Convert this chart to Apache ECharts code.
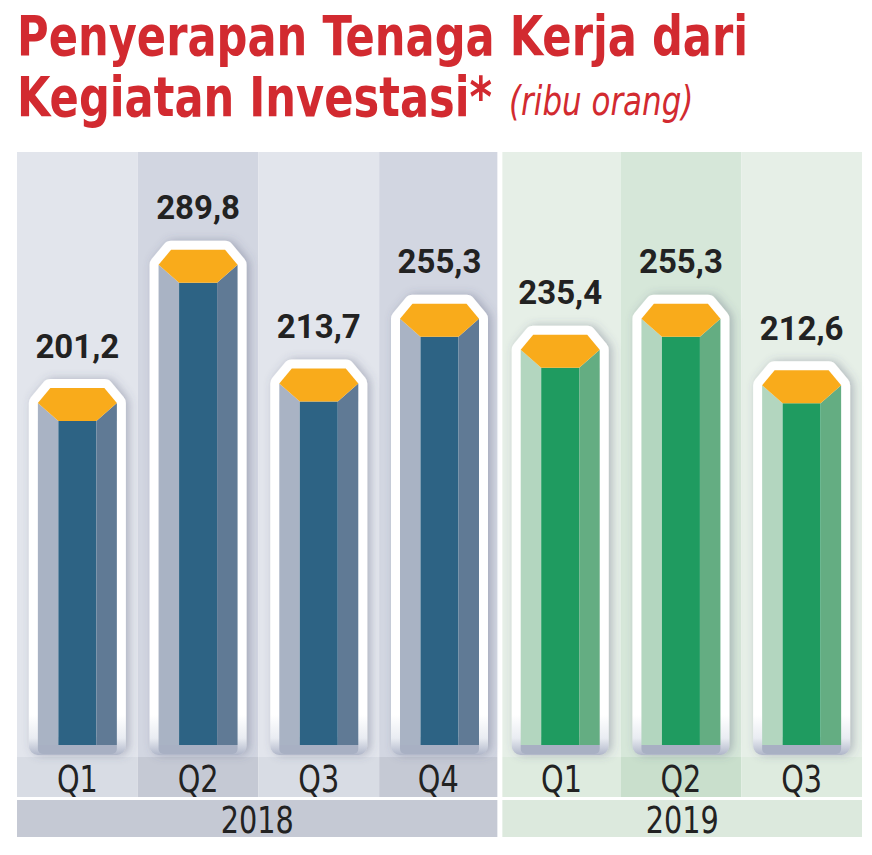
<!DOCTYPE html>
<html><head><meta charset="utf-8">
<script src="https://cdn.jsdelivr.net/npm/echarts@6/dist/echarts.min.js"></script>
<style>html,body{margin:0;padding:0;background:#fff}#c{width:872px;height:855px}</style>
</head><body><div id="c"></div>
<script>
// ---- data ----
const categories = ['Q1', 'Q2', 'Q3', 'Q4', 'Q1', 'Q2', 'Q3'];
const years = ['2018', '2018', '2018', '2018', '2019', '2019', '2019'];
const values = [201.2, 289.8, 213.7, 255.3, 235.4, 255.3, 212.6];
const valueLabels = ['201,2', '289,8', '213,7', '255,3', '235,4', '255,3', '212,6'];
const titleLine1 = 'Penyerapan Tenaga Kerja dari';
const titleLine2 = 'Kegiatan Investasi*';
const titleUnit = '(ribu orang)';

// ---- styles ----
const NARROW = '"Liberation Sans Narrow", "DejaVu Sans Condensed", sans-serif';
const RED = '#d22a30';
const palette = {
  '2018': {
    stripe: ['#e2e5ec', '#d2d6e1'], qrow: ['#d8dce4', '#c5c9d4'], yrow: '#c5c9d4',
    left: '#a9b3c4', mid: '#2d6384', right: '#607a95'
  },
  '2019': {
    stripe: ['#e6efe7', '#d6e7d9'], qrow: ['#deebdf', '#c9dfcc'], yrow: '#dce9dd',
    left: '#b3d6bf', mid: '#1f9b60', right: '#64ad82'
  }
};
const HEX = '#f9ab1b';

function yearIndexWithin(idx) {
  let k = 0;
  for (let i = idx - 1; i >= 0 && years[i] === years[idx]; i--) k++;
  return k;
}

function bandEdges(api, idx) {
  const c = api.coord([idx, 0])[0];
  const w = api.size([1, 0])[0];
  let l = c - w / 2, r = c + w / 2;
  if (idx > 0 && years[idx - 1] !== years[idx]) l += 2.5;
  if (idx < years.length - 1 && years[idx + 1] !== years[idx]) r -= 2.5;
  return [l, r];
}

function axisText(text, x, y) {
  return { type: 'text', x: x, y: y, scaleX: 0.84,
    style: { text: text, x: 0, y: 0, align: 'center', verticalAlign: 'middle',
      fontFamily: NARROW, fontSize: 38, fill: '#222' } };
}

function renderBackground(params, api) {
  const idx = api.value(0);
  const cs = params.coordSys;
  const yr = years[idx];
  const p = palette[yr];
  const k = yearIndexWithin(idx) % 2;
  const [l, r] = bandEdges(api, idx);
  const bottom = cs.y + cs.height;
  const children = [
    { type: 'rect', shape: { x: l, y: cs.y, width: r - l, height: cs.height }, style: { fill: p.stripe[k] } },
    { type: 'rect', shape: { x: l, y: bottom, width: r - l, height: 40 }, style: { fill: p.qrow[k] } },
    axisText(categories[idx], (l + r) / 2, bottom + 21)
  ];
  if (idx === 0 || years[idx - 1] !== yr) {
    let last = idx;
    while (last + 1 < years.length && years[last + 1] === yr) last++;
    const r2 = bandEdges(api, last)[1];
    children.push(
      { type: 'rect', shape: { x: l, y: bottom + 43, width: r2 - l, height: 37 }, style: { fill: p.yrow } },
      axisText(yr, (l + r2) / 2, bottom + 62)
    );
  }
  return { type: 'group', children };
}

function renderBar(params, api) {
  const idx = api.value(0);
  const pt = api.coord([idx, api.value(1)]);
  const cx = pt[0], y0 = pt[1];
  const cs = params.coordSys;
  const yb = cs.y + cs.height - 12;
  const p = palette[years[idx]];
  const W = 39.5, T = 27, B = 19;
  const hexPts = [[cx - T, y0 - 33], [cx + T, y0 - 33], [cx + W, y0 - 18], [cx + B, y0], [cx - B, y0], [cx - W, y0 - 18]];
  const outline = [[cx - T, y0 - 33], [cx + T, y0 - 33], [cx + W, y0 - 18], [cx + W, yb + 1], [cx - W, yb + 1], [cx - W, y0 - 18]];
  const strokeGrad = new echarts.graphic.LinearGradient(0, yb - 30, 0, yb + 12, [
    { offset: 0, color: '#ffffff' }, { offset: 0.55, color: '#e9ecf2' }, { offset: 1, color: '#a9b0c4' }
  ], true);
  return {
    type: 'group',
    children: [
      { type: 'polygon', shape: { points: outline },
        style: { fill: '#fff', stroke: strokeGrad, lineWidth: 18, lineJoin: 'round',
          shadowBlur: 10, shadowColor: 'rgba(70,80,110,0.35)', shadowOffsetX: 3, shadowOffsetY: 0 } },
      { type: 'rect', shape: { x: cx - W, y: yb, width: 2 * W, height: 9, r: [0, 0, 5, 5] }, style: { fill: '#a8b0c3' } },
      { type: 'polygon', shape: { points: [[cx - W, y0 - 18], [cx - B, y0], [cx - B, yb], [cx - W, yb]] }, style: { fill: p.left } },
      { type: 'rect', shape: { x: cx - B, y: y0, width: 2 * B, height: yb - y0 }, style: { fill: p.mid } },
      { type: 'polygon', shape: { points: [[cx + B, y0], [cx + W, y0 - 18], [cx + W, yb], [cx + B, yb]] }, style: { fill: p.right } },
      { type: 'polygon', shape: { points: hexPts }, style: { fill: HEX } },
      { type: 'text', style: { text: valueLabels[idx], x: cx, y: y0 - 75, align: 'center', verticalAlign: 'middle',
          fontFamily: 'Roboto, sans-serif', fontWeight: 'bold', fontSize: 33, fill: '#222' } }
    ]
  };
}

const chart = echarts.init(document.getElementById('c'), null, { renderer: 'svg' });
chart.setOption({
  backgroundColor: '#fff',
  animation: false,
  graphic: [
    { type: 'text', x: 17, y: 36, scaleX: 0.873,
      style: { text: titleLine1, x: 0, y: 0, verticalAlign: 'middle', align: 'left',
        fontFamily: NARROW, fontWeight: 'bold', fontSize: 55, fill: RED } },
    { type: 'text', x: 17, y: 97, scaleX: 0.873,
      style: { text: titleLine2, x: 0, y: 0, verticalAlign: 'middle', align: 'left',
        fontFamily: NARROW, fontWeight: 'bold', fontSize: 55, fill: RED } },
    { type: 'text', x: 509, y: 101, scaleX: 0.86,
      style: { text: titleUnit, x: 0, y: 0, verticalAlign: 'middle', align: 'left',
        fontFamily: NARROW, fontStyle: 'italic', fontWeight: 'normal', fontSize: 40, fill: RED } }
  ],
  grid: { left: 17, right: 10, top: 152, bottom: 98 },
  xAxis: { type: 'category', data: categories.map((c, i) => i), show: false, boundaryGap: true },
  yAxis: { type: 'value', min: -14, max: 373.6, show: false, splitLine: { show: false } },
  series: [
    { type: 'custom', renderItem: renderBackground, data: values.map((v, i) => [i, v]), silent: true, z: 1, clip: false },
    { type: 'custom', renderItem: renderBar, data: values.map((v, i) => [i, v]), z: 2, clip: false }
  ]
});
</script>
</body></html>
